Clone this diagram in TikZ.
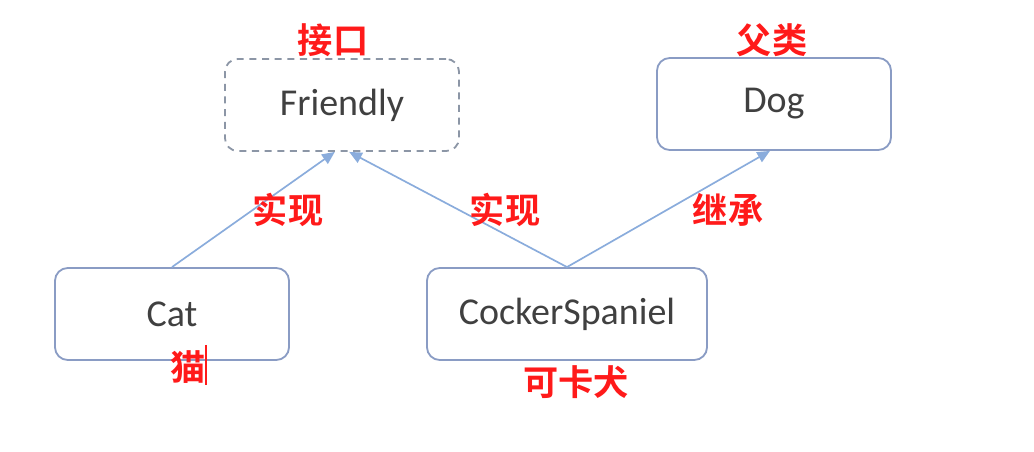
\documentclass[tikz,border=0pt]{standalone}
\usepackage{fontspec}
\setmainfont{Carlito}
\newfontfamily\cjk{Noto Sans CJK SC}[BoldFont={* Bold}]
\usetikzlibrary{arrows.meta}
\definecolor{boxline}{HTML}{8A9CC4}
\definecolor{dashline}{HTML}{8C96A6}
\definecolor{arrowblue}{HTML}{8AACDC}
\definecolor{labelred}{HTML}{FF1A1A}
\tikzset{
    classbox/.style={draw=boxline, line width=1.3pt, rounded corners=0.32cm,
        minimum width=5.85cm, minimum height=2.3cm, text=black!75,
        font=\fontsize{27}{30}\selectfont},
    ifacebox/.style={classbox, draw=dashline, dash pattern=on 5pt off 4pt},
    relarrow/.style={draw=arrowblue, line width=1.2pt,
        -{Triangle[length=9pt, width=8pt]}},
    redlabel/.style={text=labelred, font=\cjk\bfseries\fontsize{25}{28}\selectfont}
}
\begin{document}
\begin{tikzpicture}[x=0.025cm, y=-0.025cm]
    \useasboundingbox (0,0) rectangle (1034,452);
    % Classes and interface
    \node[ifacebox] (friendly) at (342,105) {Friendly};
    \node[classbox] (dog) at (774,104) {Dog};
    \node[classbox] (cat) at (172,314) {Cat};
    \node[classbox, minimum width=7cm] (spaniel) at (567,314) {CockerSpaniel};

    % Relations
    \draw[relarrow] (cat.north) -- ([xshift=-0.18cm]friendly.south);
    \draw[relarrow] (spaniel.north) -- ([xshift=0.18cm]friendly.south);
    \draw[relarrow] (spaniel.north) -- ([xshift=-0.1cm]dog.south);

    % Red notes
    \node[redlabel] (ifacenote) at (333,40) {接口};
    \node[redlabel] (dognote) at (772,40) {父类};
    \node[redlabel] (implcat) at (288,210) {实现};
    \node[redlabel] (implspaniel) at (505,210) {实现};
    \node[redlabel] (inherit) at (728,210) {继承};
    \node[redlabel] (catnote) at (188,367) {猫};
    \node[redlabel] (spanielnote) at (576,382) {可卡犬};
    \draw[labelred, line width=1.2pt] (206,345) -- (206,385);
\end{tikzpicture}
\end{document}
